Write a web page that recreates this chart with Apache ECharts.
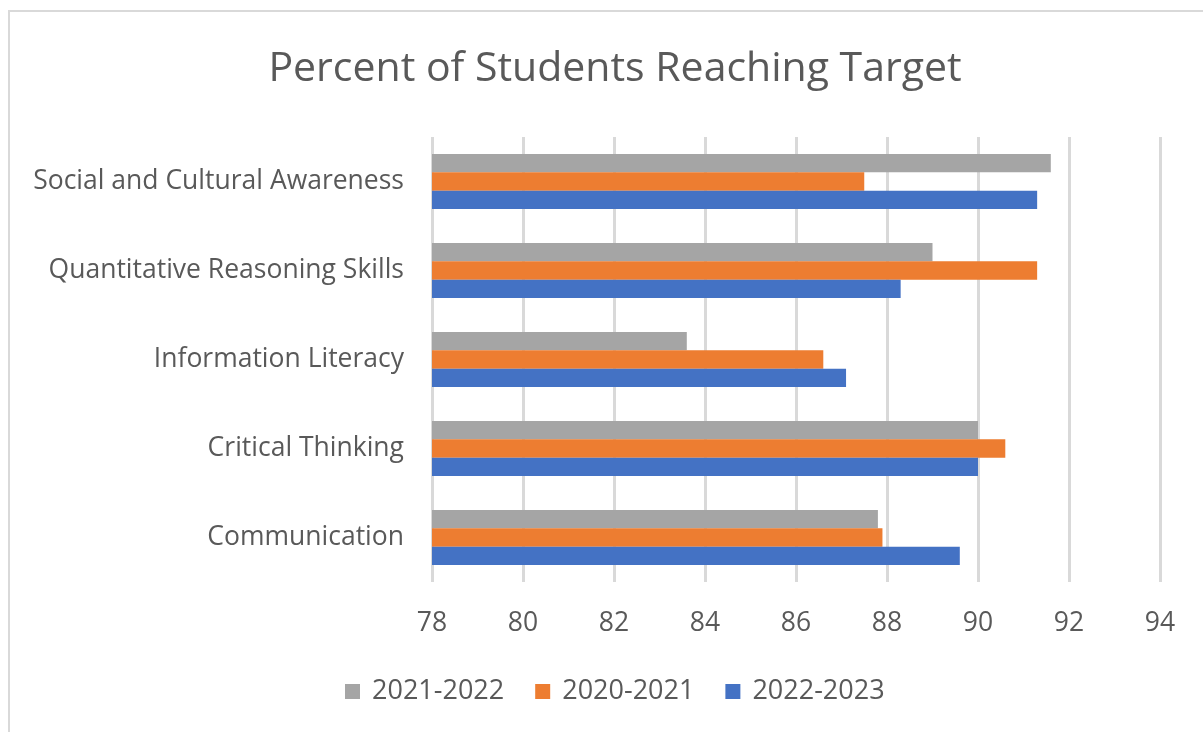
<!DOCTYPE html>
<html>
<head>
<meta charset="utf-8">
<script src="https://cdn.jsdelivr.net/npm/echarts@6/dist/echarts.min.js"></script>
<style>
  html, body { margin: 0; padding: 0; background: #fff; }
  #chart { width: 1203px; height: 732px; }
</style>
</head>
<body>
<div id="chart"></div>
<script>
  // categories bottom -> top
  const categories = ['Communication', 'Critical Thinking', 'Information Literacy', 'Quantitative Reasoning Skills', 'Social and Cultural Awareness']
  const seriesNames = ['2021-2022', '2020-2021', '2022-2023']
  const values2122 = [87.8, 90.0, 83.6, 89.0, 91.6]
  const values2021 = [87.9, 90.6, 86.6, 91.3, 87.5]
  const values2223 = [89.6, 90.0, 87.1, 88.3, 91.3]
  const colors = ['#A5A5A5', '#ED7D31', '#4472C4']

  const textColor = '#595959'
  const font = '"Open Sans", sans-serif'

  const chart = echarts.init(document.getElementById('chart'))
  const dataSets = [values2122, values2021, values2223]

  chart.setOption({
    animation: false,
    color: colors,
    graphic: [{
      type: 'rect',
      shape: { x: 9, y: 11, width: 1220, height: 760 },
      style: { fill: 'none', stroke: '#d9d9d9', lineWidth: 2 }
    }],
    title: {
      text: 'Percent of Students Reaching Target',
      left: 610,
      textAlign: 'center',
      top: 44,
      textStyle: { fontFamily: font, fontSize: 41, fontWeight: 'normal', color: textColor }
    },
    legend: {
      bottom: 22,
      left: 340,
      itemWidth: 15,
      itemHeight: 15,
      itemGap: 31,
      itemStyle: { borderWidth: 0 },
      icon: 'rect',
      data: seriesNames,
      textStyle: { fontFamily: font, fontSize: 27, color: textColor, padding: [0, 0, 0, 7] }
    },
    grid: { left: 432, right: 43, top: 137, height: 445, containLabel: false },
    xAxis: {
      type: 'value',
      min: 78,
      max: 94,
      interval: 2,
      axisLine: { show: false },
      axisTick: { show: false },
      axisLabel: { fontFamily: font, fontSize: 26.5, color: textColor, margin: 28 },
      splitLine: { lineStyle: { color: '#d9d9d9', width: 3 } }
    },
    yAxis: {
      type: 'category',
      data: categories,
      axisLine: { show: false },
      axisTick: { show: false },
      axisLabel: { fontFamily: font, fontSize: 26.5, color: textColor, margin: 28 }
    },
    series: seriesNames.map((name, i) => ({
      name: name,
      type: 'bar',
      data: dataSets[i],
      barGap: '0%',
      barCategoryGap: '38%'
    }))
  })
</script>
</body>
</html>
